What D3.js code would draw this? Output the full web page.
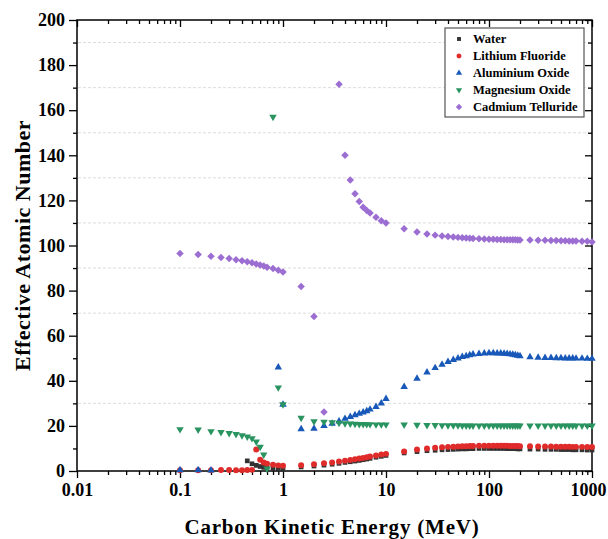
<!DOCTYPE html>
<html>
<head>
<meta charset="utf-8">
<script src="https://cdnjs.cloudflare.com/ajax/libs/d3/7.8.5/d3.min.js"></script>
<style>
  body { margin: 0; background: #fff; }
  svg text { font-family: "Liberation Serif", "Times New Roman", serif; font-weight: bold; }
</style>
</head>
<body>
<div class="chart"></div>
<script>
// energies (MeV)
var energy = [0.1, 0.15, 0.2, 0.25, 0.3, 0.35, 0.4, 0.45, 0.5, 0.55, 0.6, 0.65, 0.7, 0.8, 0.9, 1,
    1.5, 2, 2.5, 3, 3.5, 4, 4.5, 5, 5.5, 6, 6.5, 7, 8, 9, 10,
    15, 20, 25, 30, 35, 40, 45, 50, 55, 60, 65, 70, 80, 90, 100,
    110, 120, 130, 140, 150, 160, 170, 180, 190, 200,
    250, 300, 350, 400, 450, 500, 550, 600, 650, 700, 800, 900, 1000];

var water = [null, null, null, null, null, null, null, 4.5, 3.2, 2.5, 2.0, 1.6, 1.3, 1.0, 0.8, 0.7,
    1.8, 2.2, 2.6, 3.0, 3.4, 3.8, 4.1, 4.4, 4.7, 5.0, 5.3, 5.6, 6.1, 6.5, 6.9,
    8.0, 8.6, 9.0, 9.2, 9.4, 9.5, 9.6, 9.7, 9.8, 9.8, 9.9, 9.9, 10.0, 10.0, 10.0,
    10.0, 10.0, 10.0, 10.0, 9.9, 9.9, 9.9, 9.9, 9.8, 9.8,
    9.7, 9.7, 9.6, 9.6, 9.6, 9.5, 9.5, 9.5, 9.4, 9.4, 9.4, 9.3, 9.3];

var lithiumFluoride = [0.3, 0.3, 0.3, 0.4, 0.4, 0.3, 0.3, 0.4, 0.5, 9.5, 5.0, 3.8, 3.2, 2.8, 2.5, 2.3,
    2.6, 3.0, 3.4, 3.8, 4.2, 4.6, 4.9, 5.2, 5.5, 5.8, 6.1, 6.4, 6.9, 7.3, 7.6,
    8.7, 9.5, 10.0, 10.3, 10.5, 10.7, 10.8, 10.9, 11.0, 11.0, 11.1, 11.1, 11.2, 11.2, 11.2,
    11.2, 11.2, 11.2, 11.2, 11.2, 11.1, 11.1, 11.1, 11.1, 11.0,
    11.0, 10.9, 10.9, 10.9, 10.8, 10.8, 10.8, 10.8, 10.7, 10.7, 10.7, 10.6, 10.6];

var aluminiumOxide = [0.4, 0.4, 0.3, null, null, null, null, null, null, null, null, null, null, null, 46, 29.5,
    18.6, 18.8, 20.0, 21.0, 22.0, 23.2, 24.0, 24.8, 25.4, 26.0, 26.6, 27.3, 28.5, 30.0, 32.0,
    37.3, 41.0, 43.8, 45.7, 47.2, 48.4, 49.3, 50.0, 50.6, 51.0, 51.4, 51.7, 52.0, 52.2, 52.3,
    52.3, 52.2, 52.2, 52.1, 52.0, 51.8, 51.6, 51.4, 51.2, 51.0,
    50.5, 50.3, 50.2, 50.2, 50.1, 50.1, 50.0, 50.0, 50.0, 49.9, 49.9, 49.8, 49.8];

var magnesiumOxide = [18.5, 18.3, 17.6, 17.2, 16.8, 16.3, 15.8, 15.2, 14.5, 13.0, 10.7, 7.2, 1.0, 157, 37, 29.5,
    23.5, 22.0, 21.8, 21.5, 21.3, 21.1, 21.0, 20.9, 20.8, 20.8, 20.7, 20.7, 20.6, 20.6, 20.6,
    20.5, 20.4, 20.3, 20.3, 20.2, 20.2, 20.2, 20.2, 20.1, 20.1, 20.1, 20.1, 20.1, 20.1, 20.1,
    20.1, 20.1, 20.1, 20.1, 20.1, 20.1, 20.1, 20.1, 20.1, 20.1,
    20.1, 20.1, 20.1, 20.1, 20.1, 20.1, 20.1, 20.1, 20.1, 20.1, 20.1, 20.1, 20.1];

var cadmiumTelluride = [96.5, 96.0, 95.2, 94.7, 94.2, 93.7, 93.2, 92.8, 92.3, 91.8, 91.4, 90.9, 90.4, 89.8, 89.0, 88.2,
    81.8, 68.5, 26.2, null, 171.5, 140, 129, 123, 119.5, 117, 115.5, 114.4, 112.5, 111, 110,
    107.4, 106.0, 105.1, 104.6, 104.2, 104.0, 103.8, 103.6, 103.4, 103.3, 103.2, 103.1, 103.0, 102.9, 102.8,
    102.8, 102.7, 102.7, 102.6, 102.6, 102.5, 102.5, 102.5, 102.4, 102.4,
    102.4, 102.3, 102.3, 102.2, 102.2, 102.1, 102.1, 102.0, 102.0, 102.0, 101.9, 101.9, 101.6];

var seriesNames = ["Water", "Lithium Fluoride", "Aluminium Oxide", "Magnesium Oxide", "Cadmium Telluride"];
var xTicks = [0.01, 0.1, 1, 10, 100, 1000];
var xTickLabels = ["0.01", "0.1", "1", "10", "100", "1000"];
var yTicks = [0, 20, 40, 60, 80, 100, 120, 140, 160, 180, 200];
var gridValues = [30, 70, 90, 110, 130, 150, 170, 190];

function initChart() {
    var series = [
        {name: seriesNames[0], values: water, color: "#333333", sym: d3.symbolSquare, size: 22, rot: 0},
        {name: seriesNames[1], values: lithiumFluoride, color: "#e02b2b", sym: d3.symbolCircle, size: 28, rot: 0},
        {name: seriesNames[2], values: aluminiumOxide, color: "#1858b8", sym: d3.symbolTriangle, size: 24, rot: 0},
        {name: seriesNames[3], values: magnesiumOxide, color: "#2a9460", sym: d3.symbolTriangle, size: 24, rot: 180},
        {name: seriesNames[4], values: cadmiumTelluride, color: "#9c6ed2", sym: d3.symbolSquare, size: 28, rot: 45}
    ];

    var width = 608, height = 539;
    var mLeft = 77, mRight = 592, mTop = 20, mBottom = 471;

    var svg = d3.select(".chart").append("svg").attr("width", width).attr("height", height);

    var x = d3.scaleLog().domain([0.01, 1000]).range([mLeft, mRight]);
    var y = d3.scaleLinear().domain([0, 200]).range([mBottom, mTop]);

    // grid
    svg.append("g").selectAll("line").data(gridValues).enter().append("line")
        .attr("x1", mLeft + 1).attr("x2", mRight - 3)
        .attr("y1", function (d) { return y(d); }).attr("y2", function (d) { return y(d); })
        .attr("stroke", "#dcdcdc").attr("stroke-width", 1).attr("stroke-dasharray", "3,2");

    // minor ticks
    var minorX = [];
    for (var p = -2; p < 3; p++) {
        for (var m = 2; m < 10; m++) minorX.push(m * Math.pow(10, p));
    }
    var minorY = d3.range(10, 200, 20);

    function axisStyle(g) {
        g.select(".domain").remove();
        g.selectAll("line").attr("stroke", "#000").attr("stroke-width", 1.3);
    }

    // bottom
    svg.append("g").attr("transform", "translate(0," + mBottom + ")")
        .call(d3.axisBottom(x).tickValues(xTicks).tickFormat(function (d, i) { return xTickLabels[i]; }).tickSize(7).tickPadding(5))
        .call(axisStyle)
        .selectAll("text").attr("font-size", 18).attr("fill", "#000")
        .attr("dx", function (d) { return d == 1000 ? -4 : 0; });
    svg.append("g").attr("transform", "translate(0," + mBottom + ")")
        .call(d3.axisBottom(x).tickValues(minorX).tickFormat("").tickSize(4)).call(axisStyle);
    // top, inward
    svg.append("g").attr("transform", "translate(0," + mTop + ")")
        .call(d3.axisBottom(x).tickValues(xTicks).tickFormat("").tickSize(7)).call(axisStyle);
    svg.append("g").attr("transform", "translate(0," + mTop + ")")
        .call(d3.axisBottom(x).tickValues(minorX).tickFormat("").tickSize(4)).call(axisStyle);
    // left
    svg.append("g").attr("transform", "translate(" + mLeft + ",0)")
        .call(d3.axisLeft(y).tickValues(yTicks).tickSize(8).tickPadding(4))
        .call(axisStyle)
        .selectAll("text").attr("font-size", 18).attr("fill", "#000");
    svg.append("g").attr("transform", "translate(" + mLeft + ",0)")
        .call(d3.axisLeft(y).tickValues(minorY).tickFormat("").tickSize(4)).call(axisStyle);
    // right, inward
    svg.append("g").attr("transform", "translate(" + mRight + ",0)")
        .call(d3.axisLeft(y).tickValues(yTicks).tickFormat("").tickSize(7)).call(axisStyle);
    svg.append("g").attr("transform", "translate(" + mRight + ",0)")
        .call(d3.axisLeft(y).tickValues(minorY).tickFormat("").tickSize(4)).call(axisStyle);

    // frame
    svg.append("rect").attr("x", mLeft).attr("y", mTop).attr("width", mRight - mLeft).attr("height", mBottom - mTop)
        .attr("fill", "none").attr("stroke", "#000").attr("stroke-width", 1.5);

    // points
    series.forEach(function (s) {
        var pts = energy.map(function (e, i) { return [e, s.values[i]]; })
            .filter(function (d) { return d[1] != null; });
        var sym = d3.symbol().type(s.sym).size(s.size);
        svg.append("g").selectAll("path").data(pts).enter().append("path")
            .attr("d", sym)
            .attr("transform", function (d) { return "translate(" + x(d[0]) + "," + y(d[1]) + ") rotate(" + s.rot + ")"; })
            .attr("fill", s.color);
    });

    // legend
    var lg = svg.append("g").attr("transform", "translate(445,28)");
    lg.append("rect").attr("width", 139).attr("height", 89).attr("fill", "#fff").attr("stroke", "#555").attr("stroke-width", 1.2);
    series.forEach(function (s, i) {
        var row = lg.append("g").attr("transform", "translate(0," + (11 + i * 17) + ")");
        row.append("path").attr("d", d3.symbol().type(s.sym).size(s.size * 0.7))
            .attr("transform", "translate(14,0) rotate(" + s.rot + ")").attr("fill", s.color);
        row.append("text").attr("x", 28).attr("y", 4).attr("font-size", 12.5).text(s.name);
    });

    // axis titles
    svg.append("text").attr("transform", "translate(30," + ((mTop + mBottom) / 2) + ") rotate(-90)")
        .attr("text-anchor", "middle").attr("font-size", 22).attr("letter-spacing", 0.5).text("Effective Atomic Number");
    svg.append("text").attr("x", 332).attr("y", 534)
        .attr("text-anchor", "middle").attr("font-size", 21).attr("letter-spacing", 0.8).text("Carbon Kinetic Energy (MeV)");
}
initChart();
</script>
</body>
</html>
